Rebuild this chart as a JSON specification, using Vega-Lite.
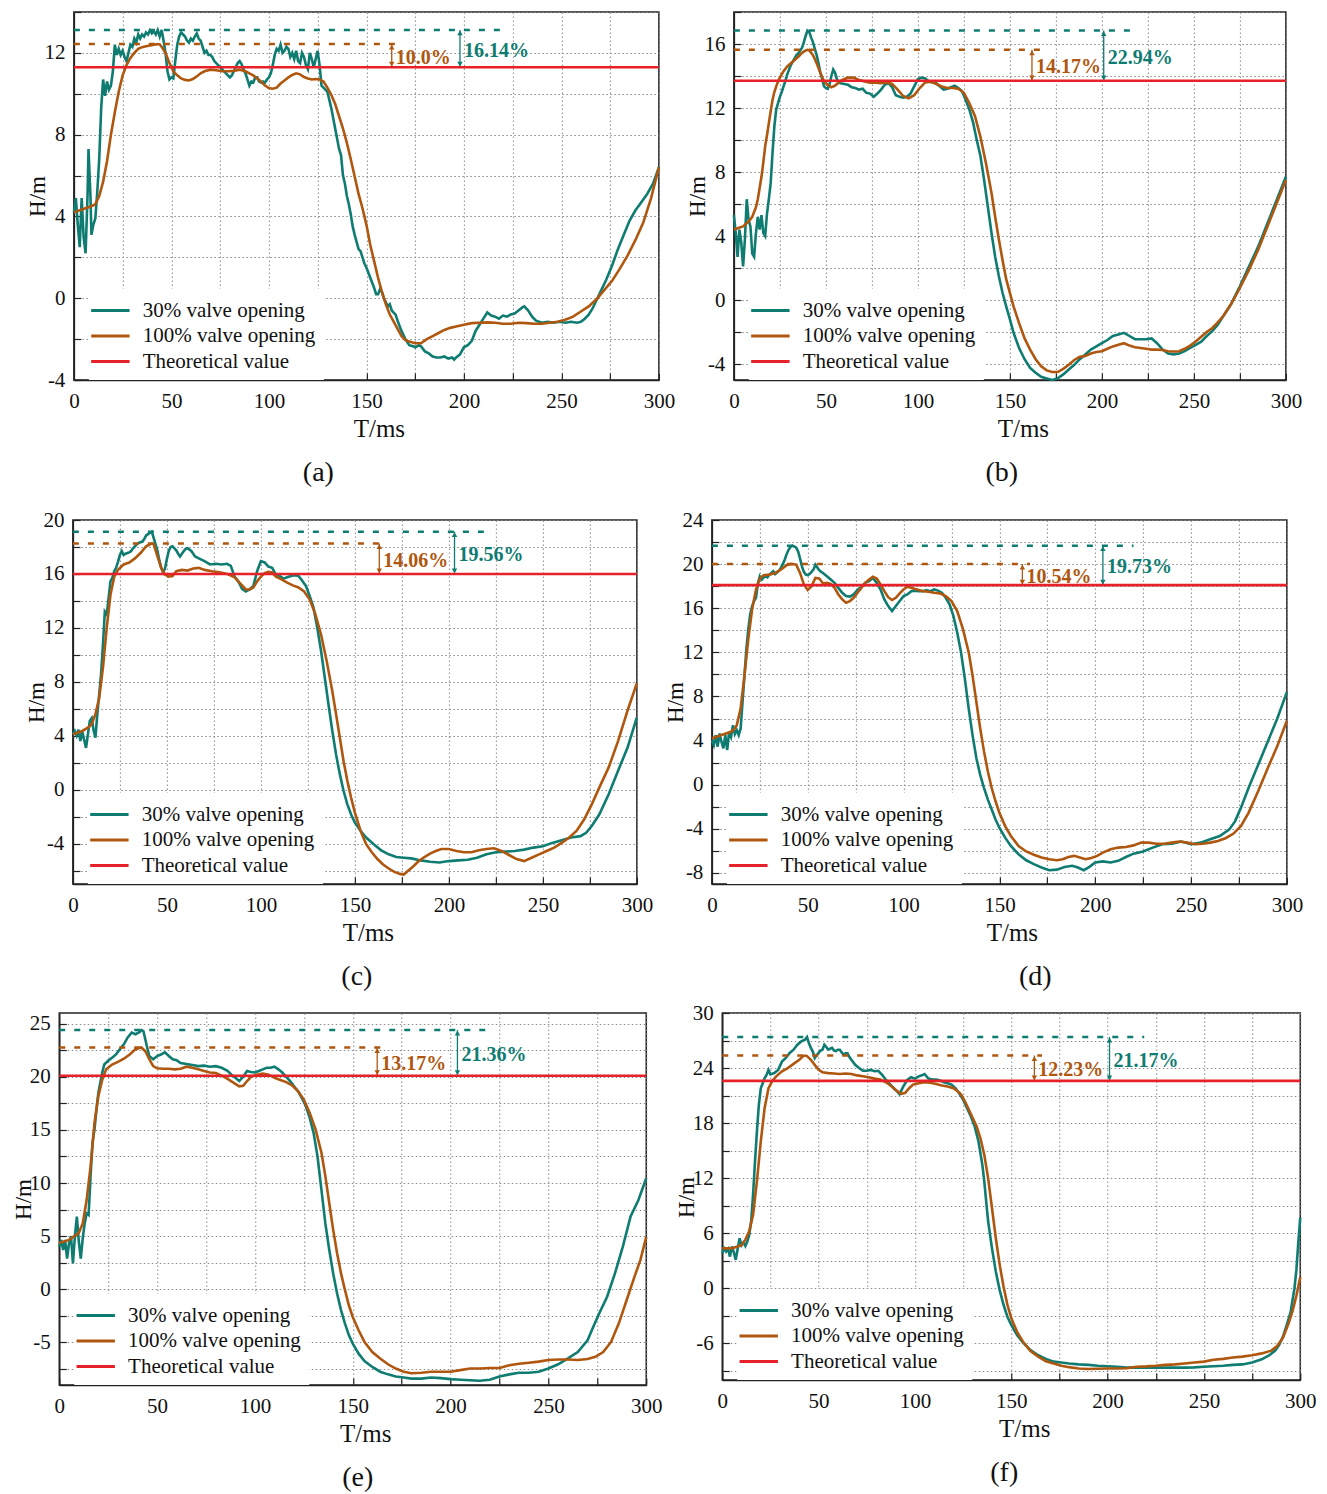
{
  "$schema": "https://vega.github.io/schema/vega-lite/v6.json",
  "padding": {"left": 11, "top": 0, "right": 5, "bottom": 2},
  "datasets": {
    "a30": [{"t":0,"H":4.2},{"t":1,"H":4.9},{"t":2,"H":3.6},{"t":3,"H":2.5},{"t":4,"H":4.9},{"t":5,"H":3.0},{"t":6,"H":2.2},{"t":7,"H":5.0},{"t":7.5,"H":7.3},{"t":8.5,"H":5.0},{"t":9,"H":3.1},{"t":10,"H":3.6},{"t":11,"H":3.9},{"t":12,"H":5.2},{"t":13,"H":6.8},{"t":14,"H":9.3},{"t":15,"H":10.7},{"t":16,"H":9.9},{"t":17,"H":10.6},{"t":18,"H":10.2},{"t":19,"H":10.4},{"t":20,"H":11.1},{"t":21,"H":12.4},{"t":22,"H":11.9},{"t":23,"H":12.2},{"t":24,"H":11.9},{"t":25,"H":12.1},{"t":26,"H":11.8},{"t":27,"H":11.6},{"t":28,"H":12.0},{"t":29,"H":12.4},{"t":30,"H":12.3},{"t":31,"H":12.7},{"t":32,"H":12.5},{"t":33,"H":12.9},{"t":34,"H":12.7},{"t":35,"H":12.9},{"t":36,"H":12.8},{"t":37,"H":13.0},{"t":38,"H":12.9},{"t":39,"H":13.1},{"t":40,"H":12.95},{"t":41,"H":13.05},{"t":42,"H":12.9},{"t":43,"H":13.12},{"t":44,"H":12.8},{"t":45,"H":13.12},{"t":46,"H":12.6},{"t":47,"H":12.0},{"t":48,"H":11.1},{"t":49,"H":10.7},{"t":50,"H":10.8},{"t":51,"H":10.75},{"t":52,"H":11.6},{"t":53,"H":12.4},{"t":54,"H":12.8},{"t":55,"H":13.0},{"t":56,"H":12.9},{"t":57,"H":12.8},{"t":58,"H":12.6},{"t":59,"H":12.5},{"t":60,"H":12.7},{"t":61,"H":12.6},{"t":62,"H":12.8},{"t":63,"H":12.95},{"t":64,"H":12.7},{"t":65,"H":12.6},{"t":66,"H":12.3},{"t":67,"H":12.0},{"t":68,"H":12.1},{"t":69,"H":11.9},{"t":70,"H":11.9},{"t":71,"H":11.8},{"t":72,"H":11.6},{"t":73,"H":11.5},{"t":74,"H":11.4},{"t":75,"H":11.3},{"t":76,"H":11.2},{"t":77,"H":11.1},{"t":78,"H":11.0},{"t":79,"H":10.9},{"t":80,"H":10.8},{"t":81,"H":10.9},{"t":82,"H":11.1},{"t":83,"H":11.3},{"t":84,"H":11.5},{"t":85,"H":11.6},{"t":86,"H":11.45},{"t":87,"H":11.2},{"t":88,"H":11.0},{"t":89,"H":10.7},{"t":90,"H":10.4},{"t":91,"H":10.6},{"t":92,"H":10.55},{"t":93,"H":10.8},{"t":94,"H":10.8},{"t":95,"H":10.6},{"t":96,"H":10.55},{"t":97,"H":10.6},{"t":98,"H":10.55},{"t":99,"H":10.7},{"t":100,"H":10.8},{"t":101,"H":11.0},{"t":102,"H":11.4},{"t":103,"H":11.9},{"t":104,"H":12.2},{"t":105,"H":12.1},{"t":106,"H":12.4},{"t":107,"H":12.0},{"t":108,"H":12.1},{"t":109,"H":12.3},{"t":110,"H":12.2},{"t":111,"H":11.8},{"t":112,"H":12.0},{"t":113,"H":11.7},{"t":114,"H":12.1},{"t":115,"H":11.6},{"t":116,"H":11.5},{"t":117,"H":12.0},{"t":118,"H":11.8},{"t":119,"H":11.4},{"t":120,"H":11.2},{"t":121,"H":12.0},{"t":122,"H":11.7},{"t":123,"H":11.3},{"t":124,"H":11.7},{"t":125,"H":12.1},{"t":126,"H":11.4},{"t":127,"H":10.4},{"t":128,"H":10.3},{"t":129,"H":10.2},{"t":130,"H":10.1},{"t":132,"H":9.3},{"t":134,"H":8.3},{"t":136,"H":7.3},{"t":137,"H":7.0},{"t":138,"H":6.0},{"t":139,"H":5.6},{"t":140,"H":5.0},{"t":141,"H":4.6},{"t":142,"H":4.1},{"t":143,"H":3.5},{"t":144,"H":3.1},{"t":146,"H":2.4},{"t":147,"H":2.3},{"t":148,"H":2.0},{"t":149,"H":1.7},{"t":150,"H":1.5},{"t":152,"H":1.0},{"t":154,"H":0.5},{"t":155,"H":0.2},{"t":156,"H":0.2},{"t":157,"H":0.45},{"t":158,"H":0.3},{"t":159,"H":0.0},{"t":160,"H":-0.2},{"t":161,"H":-0.4},{"t":162,"H":-0.3},{"t":163,"H":-0.6},{"t":164,"H":-0.7},{"t":165,"H":-0.8},{"t":166,"H":-1.1},{"t":168,"H":-1.6},{"t":170,"H":-2.0},{"t":172,"H":-2.3},{"t":174,"H":-2.35},{"t":175,"H":-2.4},{"t":177,"H":-2.3},{"t":178,"H":-2.35},{"t":180,"H":-2.6},{"t":182,"H":-2.7},{"t":184,"H":-2.85},{"t":186,"H":-2.9},{"t":188,"H":-2.9},{"t":190,"H":-2.85},{"t":192,"H":-2.95},{"t":194,"H":-2.9},{"t":195,"H":-3.0},{"t":196,"H":-2.9},{"t":198,"H":-2.75},{"t":200,"H":-2.4},{"t":202,"H":-2.3},{"t":204,"H":-2.1},{"t":206,"H":-1.6},{"t":208,"H":-1.3},{"t":210,"H":-1.0},{"t":212,"H":-0.7},{"t":214,"H":-0.85},{"t":216,"H":-0.9},{"t":218,"H":-1.0},{"t":220,"H":-0.85},{"t":222,"H":-0.9},{"t":224,"H":-0.8},{"t":226,"H":-0.75},{"t":228,"H":-0.6},{"t":230,"H":-0.45},{"t":231,"H":-0.4},{"t":233,"H":-0.6},{"t":235,"H":-0.9},{"t":237,"H":-1.1},{"t":240,"H":-1.2},{"t":243,"H":-1.15},{"t":246,"H":-1.2},{"t":249,"H":-1.15},{"t":252,"H":-1.2},{"t":255,"H":-1.15},{"t":258,"H":-1.2},{"t":260,"H":-1.15},{"t":262,"H":-1.0},{"t":264,"H":-0.8},{"t":266,"H":-0.5},{"t":268,"H":-0.1},{"t":270,"H":0.3},{"t":273,"H":0.9},{"t":276,"H":1.6},{"t":279,"H":2.4},{"t":282,"H":3.1},{"t":285,"H":3.8},{"t":288,"H":4.3},{"t":291,"H":4.7},{"t":294,"H":5.1},{"t":297,"H":5.6},{"t":300,"H":6.4}],
    "a100": [{"t":0,"H":4.2},{"t":3,"H":4.3},{"t":6,"H":4.4},{"t":9,"H":4.5},{"t":11,"H":4.6},{"t":13,"H":5.0},{"t":15,"H":5.7},{"t":17,"H":6.7},{"t":19,"H":8.0},{"t":21,"H":9.1},{"t":23,"H":10.1},{"t":25,"H":10.9},{"t":27,"H":11.4},{"t":29,"H":11.75},{"t":31,"H":12.0},{"t":33,"H":12.2},{"t":35,"H":12.28},{"t":37,"H":12.32},{"t":39,"H":12.36},{"t":41,"H":12.4},{"t":43,"H":12.43},{"t":44,"H":12.41},{"t":45,"H":12.3},{"t":46,"H":12.15},{"t":47,"H":12.0},{"t":48,"H":11.75},{"t":49,"H":11.5},{"t":50,"H":11.3},{"t":51,"H":11.1},{"t":52,"H":11.0},{"t":53,"H":10.9},{"t":55,"H":10.75},{"t":57,"H":10.68},{"t":59,"H":10.65},{"t":61,"H":10.72},{"t":63,"H":10.85},{"t":65,"H":11.0},{"t":67,"H":11.1},{"t":70,"H":11.18},{"t":73,"H":11.15},{"t":76,"H":11.1},{"t":79,"H":11.1},{"t":82,"H":11.12},{"t":85,"H":11.18},{"t":88,"H":11.1},{"t":90,"H":11.0},{"t":92,"H":10.9},{"t":94,"H":10.75},{"t":96,"H":10.6},{"t":98,"H":10.4},{"t":100,"H":10.28},{"t":102,"H":10.25},{"t":104,"H":10.3},{"t":106,"H":10.5},{"t":108,"H":10.65},{"t":110,"H":10.8},{"t":112,"H":10.92},{"t":114,"H":11.0},{"t":116,"H":10.95},{"t":118,"H":10.82},{"t":120,"H":10.75},{"t":122,"H":10.7},{"t":124,"H":10.72},{"t":126,"H":10.7},{"t":128,"H":10.6},{"t":130,"H":10.3},{"t":132,"H":9.95},{"t":134,"H":9.5},{"t":136,"H":8.9},{"t":138,"H":8.3},{"t":140,"H":7.6},{"t":142,"H":6.8},{"t":144,"H":5.95},{"t":146,"H":5.1},{"t":148,"H":4.4},{"t":150,"H":3.6},{"t":152,"H":2.6},{"t":154,"H":1.8},{"t":156,"H":1.0},{"t":158,"H":0.3},{"t":160,"H":-0.3},{"t":162,"H":-0.8},{"t":164,"H":-1.15},{"t":166,"H":-1.5},{"t":168,"H":-1.85},{"t":170,"H":-2.05},{"t":172,"H":-2.12},{"t":175,"H":-2.2},{"t":178,"H":-2.2},{"t":181,"H":-2.0},{"t":184,"H":-1.85},{"t":187,"H":-1.7},{"t":190,"H":-1.55},{"t":193,"H":-1.45},{"t":196,"H":-1.38},{"t":200,"H":-1.3},{"t":204,"H":-1.22},{"t":208,"H":-1.2},{"t":212,"H":-1.18},{"t":216,"H":-1.2},{"t":220,"H":-1.25},{"t":224,"H":-1.25},{"t":228,"H":-1.2},{"t":232,"H":-1.22},{"t":236,"H":-1.25},{"t":240,"H":-1.25},{"t":244,"H":-1.2},{"t":248,"H":-1.15},{"t":252,"H":-1.05},{"t":256,"H":-0.9},{"t":260,"H":-0.65},{"t":264,"H":-0.4},{"t":268,"H":-0.05},{"t":272,"H":0.4},{"t":276,"H":0.85},{"t":280,"H":1.45},{"t":284,"H":2.1},{"t":288,"H":2.85},{"t":292,"H":3.7},{"t":296,"H":4.9},{"t":300,"H":6.4}],
    "b30": [{"t":0,"H":5.3},{"t":1,"H":4.2},{"t":2,"H":2.7},{"t":3,"H":4.4},{"t":4,"H":3.6},{"t":5,"H":2.1},{"t":6,"H":3.8},{"t":7,"H":6.3},{"t":8,"H":5.0},{"t":9,"H":4.6},{"t":10,"H":2.9},{"t":11,"H":2.7},{"t":12,"H":4.2},{"t":13,"H":5.2},{"t":14,"H":4.4},{"t":15,"H":5.3},{"t":16,"H":4.2},{"t":17,"H":4.0},{"t":18,"H":5.4},{"t":19,"H":6.3},{"t":20,"H":7.3},{"t":21,"H":9.2},{"t":22,"H":10.85},{"t":23,"H":11.9},{"t":24,"H":12.3},{"t":25,"H":12.7},{"t":26,"H":13.0},{"t":27,"H":13.35},{"t":28,"H":13.7},{"t":29,"H":14.1},{"t":30,"H":14.4},{"t":31,"H":14.7},{"t":32,"H":14.9},{"t":33,"H":15.1},{"t":34,"H":15.3},{"t":35,"H":15.4},{"t":36,"H":15.6},{"t":37,"H":15.75},{"t":38,"H":16.1},{"t":39,"H":16.5},{"t":40,"H":16.84},{"t":41,"H":16.75},{"t":42,"H":16.4},{"t":43,"H":16.1},{"t":44,"H":15.7},{"t":45,"H":15.3},{"t":46,"H":14.8},{"t":47,"H":14.2},{"t":48,"H":13.8},{"t":49,"H":13.35},{"t":50,"H":13.25},{"t":51,"H":13.2},{"t":52,"H":13.5},{"t":53,"H":14.0},{"t":54,"H":14.4},{"t":55,"H":14.2},{"t":56,"H":13.8},{"t":57,"H":13.6},{"t":58,"H":13.55},{"t":60,"H":13.5},{"t":62,"H":13.45},{"t":64,"H":13.3},{"t":66,"H":13.25},{"t":68,"H":13.15},{"t":70,"H":13.2},{"t":72,"H":12.95},{"t":74,"H":12.9},{"t":76,"H":12.7},{"t":78,"H":12.9},{"t":80,"H":13.15},{"t":82,"H":13.45},{"t":84,"H":13.55},{"t":86,"H":13.3},{"t":88,"H":12.8},{"t":90,"H":12.7},{"t":92,"H":12.65},{"t":94,"H":12.7},{"t":96,"H":12.9},{"t":98,"H":13.35},{"t":100,"H":13.8},{"t":102,"H":13.9},{"t":104,"H":13.85},{"t":106,"H":13.65},{"t":108,"H":13.6},{"t":110,"H":13.55},{"t":112,"H":13.35},{"t":114,"H":13.15},{"t":116,"H":13.2},{"t":118,"H":13.3},{"t":120,"H":13.4},{"t":122,"H":13.25},{"t":124,"H":13.05},{"t":126,"H":12.5},{"t":128,"H":11.9},{"t":130,"H":11.1},{"t":132,"H":10.0},{"t":134,"H":9.0},{"t":136,"H":7.5},{"t":138,"H":5.85},{"t":140,"H":4.2},{"t":142,"H":2.7},{"t":144,"H":1.5},{"t":146,"H":0.45},{"t":148,"H":-0.4},{"t":150,"H":-1.2},{"t":152,"H":-2.05},{"t":155,"H":-3.0},{"t":158,"H":-3.7},{"t":161,"H":-4.25},{"t":164,"H":-4.55},{"t":167,"H":-4.8},{"t":170,"H":-4.9},{"t":173,"H":-5.0},{"t":176,"H":-4.9},{"t":179,"H":-4.65},{"t":182,"H":-4.35},{"t":185,"H":-4.05},{"t":188,"H":-3.7},{"t":191,"H":-3.4},{"t":194,"H":-3.1},{"t":197,"H":-2.9},{"t":200,"H":-2.7},{"t":203,"H":-2.5},{"t":206,"H":-2.25},{"t":209,"H":-2.15},{"t":212,"H":-2.05},{"t":215,"H":-2.25},{"t":218,"H":-2.45},{"t":221,"H":-2.45},{"t":224,"H":-2.45},{"t":227,"H":-2.4},{"t":230,"H":-2.7},{"t":233,"H":-3.1},{"t":236,"H":-3.35},{"t":239,"H":-3.4},{"t":242,"H":-3.35},{"t":245,"H":-3.2},{"t":248,"H":-3.0},{"t":251,"H":-2.8},{"t":254,"H":-2.6},{"t":257,"H":-2.25},{"t":260,"H":-1.95},{"t":263,"H":-1.55},{"t":266,"H":-1.0},{"t":270,"H":-0.3},{"t":275,"H":0.85},{"t":280,"H":2.1},{"t":285,"H":3.35},{"t":290,"H":4.8},{"t":295,"H":6.25},{"t":300,"H":7.7}],
    "b100": [{"t":0,"H":4.4},{"t":5,"H":4.6},{"t":8,"H":4.9},{"t":10,"H":5.2},{"t":12,"H":5.8},{"t":13,"H":6.3},{"t":14,"H":7.0},{"t":15,"H":7.7},{"t":16,"H":8.6},{"t":17,"H":9.6},{"t":18,"H":10.3},{"t":19,"H":11.05},{"t":20,"H":11.8},{"t":21,"H":12.5},{"t":22,"H":13.0},{"t":23,"H":13.35},{"t":24,"H":13.65},{"t":25,"H":13.9},{"t":27,"H":14.3},{"t":29,"H":14.6},{"t":31,"H":14.8},{"t":33,"H":15.0},{"t":35,"H":15.2},{"t":37,"H":15.45},{"t":39,"H":15.6},{"t":40,"H":15.64},{"t":41,"H":15.6},{"t":42,"H":15.45},{"t":43,"H":15.3},{"t":45,"H":14.8},{"t":47,"H":14.2},{"t":49,"H":13.65},{"t":51,"H":13.45},{"t":53,"H":13.3},{"t":55,"H":13.4},{"t":57,"H":13.6},{"t":59,"H":13.75},{"t":62,"H":13.9},{"t":65,"H":13.9},{"t":68,"H":13.75},{"t":71,"H":13.65},{"t":74,"H":13.58},{"t":77,"H":13.58},{"t":80,"H":13.55},{"t":83,"H":13.6},{"t":86,"H":13.5},{"t":89,"H":13.15},{"t":92,"H":12.75},{"t":95,"H":12.6},{"t":98,"H":12.8},{"t":101,"H":13.25},{"t":104,"H":13.6},{"t":107,"H":13.65},{"t":110,"H":13.5},{"t":113,"H":13.35},{"t":116,"H":13.25},{"t":119,"H":13.25},{"t":122,"H":13.2},{"t":125,"H":12.95},{"t":128,"H":12.3},{"t":131,"H":11.5},{"t":134,"H":10.2},{"t":137,"H":8.55},{"t":140,"H":6.7},{"t":142,"H":5.2},{"t":144,"H":3.8},{"t":146,"H":2.5},{"t":148,"H":1.3},{"t":150,"H":0.45},{"t":152,"H":-0.4},{"t":155,"H":-1.45},{"t":158,"H":-2.4},{"t":161,"H":-3.1},{"t":164,"H":-3.7},{"t":167,"H":-4.15},{"t":170,"H":-4.4},{"t":173,"H":-4.5},{"t":176,"H":-4.5},{"t":179,"H":-4.3},{"t":182,"H":-4.05},{"t":185,"H":-3.75},{"t":188,"H":-3.55},{"t":191,"H":-3.5},{"t":194,"H":-3.35},{"t":197,"H":-3.25},{"t":200,"H":-3.2},{"t":203,"H":-3.05},{"t":206,"H":-2.9},{"t":209,"H":-2.8},{"t":212,"H":-2.7},{"t":215,"H":-2.85},{"t":218,"H":-2.95},{"t":221,"H":-3.0},{"t":224,"H":-3.05},{"t":227,"H":-3.1},{"t":230,"H":-3.1},{"t":233,"H":-3.12},{"t":236,"H":-3.2},{"t":239,"H":-3.22},{"t":242,"H":-3.2},{"t":245,"H":-3.05},{"t":248,"H":-2.85},{"t":251,"H":-2.6},{"t":254,"H":-2.3},{"t":257,"H":-2.0},{"t":260,"H":-1.75},{"t":263,"H":-1.4},{"t":266,"H":-1.0},{"t":270,"H":-0.3},{"t":275,"H":0.75},{"t":280,"H":1.9},{"t":285,"H":3.15},{"t":290,"H":4.6},{"t":295,"H":6.05},{"t":300,"H":7.5}],
    "c30": [{"t":0,"H":4.1},{"t":1,"H":4.35},{"t":2,"H":4.0},{"t":3,"H":4.45},{"t":4,"H":3.6},{"t":5,"H":4.3},{"t":6,"H":3.7},{"t":7,"H":3.1},{"t":8,"H":4.1},{"t":9,"H":5.1},{"t":10,"H":5.3},{"t":11,"H":4.4},{"t":12,"H":3.85},{"t":13,"H":5.6},{"t":14,"H":7.05},{"t":15,"H":8.55},{"t":16,"H":10.75},{"t":17,"H":13.2},{"t":18,"H":13.0},{"t":19,"H":14.2},{"t":20,"H":15.45},{"t":21,"H":15.7},{"t":22,"H":16.2},{"t":23,"H":16.45},{"t":24,"H":16.9},{"t":25,"H":17.4},{"t":26,"H":17.7},{"t":27,"H":17.4},{"t":28,"H":17.5},{"t":29,"H":17.55},{"t":30,"H":17.6},{"t":31,"H":17.7},{"t":32,"H":17.9},{"t":33,"H":18.05},{"t":34,"H":18.2},{"t":35,"H":18.3},{"t":36,"H":18.35},{"t":37,"H":18.4},{"t":38,"H":18.6},{"t":39,"H":18.85},{"t":40,"H":18.95},{"t":41,"H":19.05},{"t":42,"H":19.13},{"t":43,"H":18.65},{"t":44,"H":18.2},{"t":45,"H":17.7},{"t":46,"H":17.0},{"t":47,"H":16.45},{"t":48,"H":16.1},{"t":49,"H":16.4},{"t":50,"H":17.1},{"t":51,"H":17.7},{"t":52,"H":18.0},{"t":53,"H":18.05},{"t":54,"H":17.9},{"t":55,"H":17.75},{"t":56,"H":17.5},{"t":57,"H":17.3},{"t":58,"H":17.5},{"t":59,"H":17.7},{"t":60,"H":17.85},{"t":61,"H":17.9},{"t":62,"H":17.8},{"t":63,"H":17.7},{"t":64,"H":17.5},{"t":65,"H":17.3},{"t":67,"H":17.15},{"t":70,"H":16.95},{"t":73,"H":16.7},{"t":76,"H":16.75},{"t":79,"H":16.7},{"t":82,"H":16.75},{"t":84,"H":16.6},{"t":86,"H":15.8},{"t":88,"H":15.45},{"t":90,"H":14.9},{"t":92,"H":14.7},{"t":94,"H":14.85},{"t":96,"H":15.1},{"t":98,"H":16.2},{"t":100,"H":16.95},{"t":102,"H":16.85},{"t":104,"H":16.55},{"t":106,"H":16.45},{"t":108,"H":15.95},{"t":110,"H":15.85},{"t":112,"H":15.65},{"t":114,"H":15.75},{"t":116,"H":15.85},{"t":118,"H":15.9},{"t":120,"H":15.85},{"t":122,"H":15.5},{"t":124,"H":15.1},{"t":126,"H":14.35},{"t":128,"H":13.5},{"t":130,"H":12.0},{"t":132,"H":10.3},{"t":134,"H":8.3},{"t":136,"H":6.3},{"t":138,"H":4.35},{"t":140,"H":2.6},{"t":142,"H":1.15},{"t":144,"H":-0.1},{"t":146,"H":-1.1},{"t":148,"H":-1.85},{"t":150,"H":-2.45},{"t":153,"H":-3.05},{"t":156,"H":-3.55},{"t":160,"H":-4.05},{"t":164,"H":-4.5},{"t":168,"H":-4.8},{"t":172,"H":-5.0},{"t":176,"H":-5.05},{"t":180,"H":-5.1},{"t":185,"H":-5.25},{"t":190,"H":-5.35},{"t":195,"H":-5.4},{"t":200,"H":-5.3},{"t":205,"H":-5.25},{"t":210,"H":-5.2},{"t":215,"H":-5.05},{"t":220,"H":-4.8},{"t":225,"H":-4.65},{"t":230,"H":-4.6},{"t":235,"H":-4.55},{"t":240,"H":-4.45},{"t":245,"H":-4.3},{"t":250,"H":-4.2},{"t":255,"H":-3.95},{"t":260,"H":-3.75},{"t":265,"H":-3.55},{"t":270,"H":-3.45},{"t":273,"H":-3.2},{"t":276,"H":-2.7},{"t":280,"H":-1.85},{"t":285,"H":-0.35},{"t":290,"H":1.4},{"t":295,"H":3.1},{"t":300,"H":5.35}],
    "c100": [{"t":0,"H":4.1},{"t":5,"H":4.35},{"t":8,"H":4.6},{"t":10,"H":4.85},{"t":12,"H":5.6},{"t":14,"H":6.8},{"t":16,"H":9.05},{"t":18,"H":12.0},{"t":20,"H":14.45},{"t":22,"H":15.8},{"t":24,"H":16.3},{"t":27,"H":16.7},{"t":30,"H":16.85},{"t":33,"H":17.15},{"t":36,"H":17.55},{"t":39,"H":18.05},{"t":41,"H":18.2},{"t":42,"H":18.25},{"t":43,"H":18.2},{"t":45,"H":17.3},{"t":47,"H":16.45},{"t":49,"H":15.95},{"t":51,"H":15.8},{"t":53,"H":15.85},{"t":55,"H":16.2},{"t":58,"H":16.3},{"t":61,"H":16.25},{"t":64,"H":16.4},{"t":67,"H":16.45},{"t":70,"H":16.3},{"t":74,"H":16.2},{"t":78,"H":16.12},{"t":82,"H":16.0},{"t":86,"H":15.75},{"t":89,"H":15.3},{"t":92,"H":14.85},{"t":94,"H":14.85},{"t":96,"H":15.0},{"t":98,"H":15.45},{"t":100,"H":15.8},{"t":102,"H":16.05},{"t":104,"H":16.15},{"t":106,"H":16.1},{"t":108,"H":15.8},{"t":111,"H":15.6},{"t":114,"H":15.35},{"t":117,"H":15.15},{"t":120,"H":15.0},{"t":123,"H":14.7},{"t":126,"H":14.1},{"t":129,"H":13.0},{"t":132,"H":11.5},{"t":135,"H":9.55},{"t":138,"H":7.3},{"t":140,"H":5.6},{"t":142,"H":3.85},{"t":144,"H":2.1},{"t":146,"H":0.65},{"t":148,"H":-0.6},{"t":150,"H":-1.7},{"t":153,"H":-3.05},{"t":156,"H":-4.05},{"t":159,"H":-4.65},{"t":162,"H":-5.15},{"t":165,"H":-5.55},{"t":168,"H":-5.85},{"t":171,"H":-6.1},{"t":174,"H":-6.25},{"t":176,"H":-6.3},{"t":178,"H":-6.05},{"t":181,"H":-5.7},{"t":184,"H":-5.3},{"t":187,"H":-5.0},{"t":190,"H":-4.75},{"t":193,"H":-4.55},{"t":196,"H":-4.4},{"t":200,"H":-4.4},{"t":204,"H":-4.55},{"t":208,"H":-4.65},{"t":212,"H":-4.65},{"t":216,"H":-4.5},{"t":220,"H":-4.4},{"t":224,"H":-4.35},{"t":228,"H":-4.55},{"t":232,"H":-4.85},{"t":236,"H":-5.15},{"t":240,"H":-5.3},{"t":244,"H":-5.05},{"t":248,"H":-4.8},{"t":252,"H":-4.55},{"t":256,"H":-4.3},{"t":260,"H":-3.95},{"t":264,"H":-3.55},{"t":268,"H":-3.05},{"t":272,"H":-2.2},{"t":276,"H":-1.1},{"t":280,"H":0.15},{"t":285,"H":1.65},{"t":290,"H":3.6},{"t":295,"H":5.85},{"t":300,"H":7.9}],
    "d30": [{"t":0,"H":4.05},{"t":1,"H":3.6},{"t":2,"H":4.5},{"t":3,"H":3.45},{"t":4,"H":4.65},{"t":5,"H":3.9},{"t":6,"H":3.3},{"t":7,"H":4.5},{"t":8,"H":3.15},{"t":9,"H":4.8},{"t":10,"H":4.35},{"t":11,"H":5.4},{"t":12,"H":4.6},{"t":13,"H":4.95},{"t":14,"H":4.5},{"t":15,"H":5.1},{"t":16,"H":7.5},{"t":17,"H":9.9},{"t":18,"H":12.3},{"t":19,"H":14.1},{"t":20,"H":15.45},{"t":21,"H":16.2},{"t":22,"H":16.65},{"t":23,"H":16.95},{"t":24,"H":18.25},{"t":25,"H":18.9},{"t":26,"H":18.6},{"t":27,"H":18.8},{"t":28,"H":18.9},{"t":29,"H":18.8},{"t":30,"H":19.05},{"t":31,"H":19.2},{"t":32,"H":19.35},{"t":33,"H":19.1},{"t":34,"H":19.25},{"t":35,"H":19.4},{"t":36,"H":19.65},{"t":37,"H":20.0},{"t":38,"H":20.4},{"t":39,"H":20.9},{"t":40,"H":21.3},{"t":41,"H":21.55},{"t":42,"H":21.67},{"t":43,"H":21.6},{"t":44,"H":21.5},{"t":45,"H":21.15},{"t":46,"H":20.5},{"t":47,"H":19.8},{"t":48,"H":19.3},{"t":49,"H":19.05},{"t":50,"H":19.0},{"t":51,"H":19.1},{"t":52,"H":19.3},{"t":53,"H":19.5},{"t":54,"H":19.95},{"t":55,"H":19.7},{"t":56,"H":19.45},{"t":57,"H":19.3},{"t":58,"H":19.2},{"t":60,"H":18.9},{"t":62,"H":18.6},{"t":64,"H":18.3},{"t":66,"H":17.85},{"t":68,"H":17.4},{"t":70,"H":17.1},{"t":72,"H":17.05},{"t":74,"H":17.25},{"t":76,"H":17.65},{"t":78,"H":17.95},{"t":80,"H":18.3},{"t":82,"H":18.45},{"t":84,"H":18.75},{"t":86,"H":18.3},{"t":88,"H":17.7},{"t":90,"H":16.8},{"t":92,"H":16.2},{"t":94,"H":15.75},{"t":96,"H":16.2},{"t":98,"H":16.65},{"t":100,"H":17.1},{"t":102,"H":17.25},{"t":104,"H":17.55},{"t":106,"H":17.6},{"t":108,"H":17.55},{"t":110,"H":17.55},{"t":112,"H":17.65},{"t":114,"H":17.55},{"t":116,"H":17.7},{"t":118,"H":17.6},{"t":120,"H":17.4},{"t":122,"H":16.95},{"t":124,"H":16.35},{"t":126,"H":15.3},{"t":128,"H":13.8},{"t":130,"H":12.0},{"t":132,"H":9.6},{"t":134,"H":6.9},{"t":136,"H":4.5},{"t":138,"H":2.4},{"t":140,"H":0.9},{"t":142,"H":-0.3},{"t":144,"H":-1.35},{"t":146,"H":-2.25},{"t":148,"H":-3.15},{"t":150,"H":-3.9},{"t":153,"H":-4.8},{"t":156,"H":-5.55},{"t":160,"H":-6.3},{"t":164,"H":-6.85},{"t":168,"H":-7.2},{"t":172,"H":-7.5},{"t":176,"H":-7.75},{"t":180,"H":-7.7},{"t":184,"H":-7.45},{"t":188,"H":-7.35},{"t":191,"H":-7.5},{"t":194,"H":-7.75},{"t":197,"H":-7.45},{"t":200,"H":-7.05},{"t":204,"H":-6.95},{"t":208,"H":-7.05},{"t":212,"H":-6.9},{"t":216,"H":-6.55},{"t":220,"H":-6.25},{"t":225,"H":-6.05},{"t":230,"H":-5.7},{"t":235,"H":-5.4},{"t":240,"H":-5.35},{"t":245,"H":-5.15},{"t":250,"H":-5.4},{"t":255,"H":-5.25},{"t":260,"H":-4.95},{"t":265,"H":-4.65},{"t":270,"H":-4.05},{"t":273,"H":-3.3},{"t":276,"H":-2.1},{"t":280,"H":-0.3},{"t":285,"H":1.8},{"t":290,"H":3.9},{"t":295,"H":6.0},{"t":300,"H":8.4}],
    "d100": [{"t":0,"H":4.2},{"t":5,"H":4.5},{"t":10,"H":4.8},{"t":12,"H":5.1},{"t":13,"H":5.4},{"t":15,"H":6.9},{"t":17,"H":9.9},{"t":19,"H":13.2},{"t":21,"H":15.9},{"t":23,"H":17.7},{"t":25,"H":18.7},{"t":27,"H":19.0},{"t":30,"H":19.05},{"t":33,"H":19.2},{"t":36,"H":19.5},{"t":39,"H":19.9},{"t":41,"H":20.0},{"t":42,"H":20.01},{"t":44,"H":19.95},{"t":46,"H":19.2},{"t":48,"H":18.15},{"t":50,"H":17.65},{"t":52,"H":18.0},{"t":54,"H":18.75},{"t":56,"H":18.7},{"t":58,"H":18.25},{"t":60,"H":18.3},{"t":62,"H":18.2},{"t":64,"H":17.85},{"t":66,"H":17.25},{"t":68,"H":16.8},{"t":70,"H":16.5},{"t":72,"H":16.65},{"t":74,"H":16.95},{"t":76,"H":17.4},{"t":78,"H":17.85},{"t":80,"H":18.3},{"t":82,"H":18.6},{"t":84,"H":18.85},{"t":86,"H":18.7},{"t":88,"H":18.15},{"t":90,"H":17.55},{"t":92,"H":17.0},{"t":94,"H":16.75},{"t":96,"H":16.95},{"t":98,"H":17.35},{"t":100,"H":17.7},{"t":102,"H":17.95},{"t":104,"H":17.85},{"t":106,"H":17.75},{"t":108,"H":17.65},{"t":110,"H":17.55},{"t":113,"H":17.5},{"t":116,"H":17.4},{"t":119,"H":17.35},{"t":122,"H":17.1},{"t":125,"H":16.65},{"t":128,"H":15.75},{"t":131,"H":14.1},{"t":134,"H":12.0},{"t":136,"H":9.9},{"t":138,"H":7.5},{"t":140,"H":5.1},{"t":142,"H":3.0},{"t":144,"H":1.2},{"t":146,"H":-0.3},{"t":148,"H":-1.5},{"t":150,"H":-2.55},{"t":153,"H":-3.75},{"t":156,"H":-4.65},{"t":160,"H":-5.55},{"t":164,"H":-6.05},{"t":168,"H":-6.35},{"t":172,"H":-6.6},{"t":176,"H":-6.75},{"t":180,"H":-6.85},{"t":183,"H":-6.75},{"t":186,"H":-6.55},{"t":189,"H":-6.45},{"t":192,"H":-6.6},{"t":195,"H":-6.75},{"t":198,"H":-6.65},{"t":201,"H":-6.45},{"t":204,"H":-6.15},{"t":208,"H":-5.85},{"t":212,"H":-5.7},{"t":216,"H":-5.65},{"t":220,"H":-5.5},{"t":224,"H":-5.25},{"t":228,"H":-5.25},{"t":232,"H":-5.35},{"t":236,"H":-5.35},{"t":240,"H":-5.25},{"t":244,"H":-5.15},{"t":248,"H":-5.25},{"t":252,"H":-5.4},{"t":256,"H":-5.35},{"t":260,"H":-5.25},{"t":264,"H":-5.1},{"t":268,"H":-4.85},{"t":272,"H":-4.45},{"t":276,"H":-3.75},{"t":280,"H":-2.55},{"t":285,"H":-0.6},{"t":290,"H":1.5},{"t":295,"H":3.5},{"t":300,"H":5.8}],
    "e30": [{"t":0,"H":4.0},{"t":1,"H":4.65},{"t":2,"H":3.7},{"t":3,"H":4.65},{"t":4,"H":2.9},{"t":5,"H":4.35},{"t":6,"H":5.0},{"t":7,"H":2.45},{"t":8,"H":5.0},{"t":9,"H":6.85},{"t":10,"H":4.5},{"t":11,"H":2.9},{"t":12,"H":4.8},{"t":13,"H":6.2},{"t":14,"H":7.15},{"t":15,"H":7.0},{"t":16,"H":10.6},{"t":17,"H":13.8},{"t":18,"H":15.0},{"t":19,"H":16.9},{"t":20,"H":18.5},{"t":21,"H":19.45},{"t":22,"H":20.4},{"t":23,"H":21.15},{"t":25,"H":21.5},{"t":27,"H":21.8},{"t":29,"H":22.1},{"t":31,"H":22.6},{"t":33,"H":23.05},{"t":35,"H":23.7},{"t":37,"H":24.15},{"t":39,"H":24.0},{"t":40,"H":24.1},{"t":41,"H":24.2},{"t":42,"H":24.39},{"t":43,"H":24.3},{"t":44,"H":23.5},{"t":45,"H":22.7},{"t":46,"H":21.95},{"t":48,"H":21.65},{"t":50,"H":21.95},{"t":52,"H":22.1},{"t":54,"H":22.3},{"t":56,"H":21.95},{"t":58,"H":21.65},{"t":60,"H":21.55},{"t":62,"H":21.3},{"t":65,"H":21.2},{"t":68,"H":21.1},{"t":71,"H":21.0},{"t":74,"H":21.05},{"t":77,"H":20.95},{"t":80,"H":21.0},{"t":83,"H":20.85},{"t":86,"H":20.55},{"t":88,"H":20.2},{"t":90,"H":19.9},{"t":92,"H":19.6},{"t":94,"H":20.0},{"t":96,"H":20.55},{"t":98,"H":20.45},{"t":100,"H":20.4},{"t":102,"H":20.55},{"t":104,"H":20.7},{"t":106,"H":20.85},{"t":108,"H":20.85},{"t":110,"H":20.95},{"t":112,"H":20.7},{"t":114,"H":20.4},{"t":116,"H":20.0},{"t":118,"H":19.6},{"t":120,"H":19.1},{"t":122,"H":18.65},{"t":124,"H":18.0},{"t":126,"H":17.25},{"t":128,"H":16.15},{"t":130,"H":14.7},{"t":132,"H":12.5},{"t":134,"H":9.35},{"t":136,"H":6.2},{"t":138,"H":3.7},{"t":140,"H":1.5},{"t":142,"H":-0.4},{"t":144,"H":-1.95},{"t":146,"H":-3.2},{"t":148,"H":-4.3},{"t":150,"H":-5.1},{"t":153,"H":-6.05},{"t":156,"H":-6.75},{"t":160,"H":-7.3},{"t":164,"H":-7.75},{"t":168,"H":-8.0},{"t":172,"H":-8.2},{"t":176,"H":-8.3},{"t":180,"H":-8.4},{"t":185,"H":-8.4},{"t":190,"H":-8.3},{"t":195,"H":-8.35},{"t":200,"H":-8.45},{"t":205,"H":-8.5},{"t":210,"H":-8.55},{"t":215,"H":-8.6},{"t":220,"H":-8.5},{"t":225,"H":-8.2},{"t":230,"H":-8.0},{"t":235,"H":-7.85},{"t":240,"H":-7.85},{"t":245,"H":-7.75},{"t":250,"H":-7.45},{"t":255,"H":-7.05},{"t":260,"H":-6.5},{"t":265,"H":-5.9},{"t":270,"H":-4.8},{"t":273,"H":-3.5},{"t":276,"H":-2.25},{"t":280,"H":-0.7},{"t":284,"H":1.5},{"t":288,"H":4.0},{"t":292,"H":6.85},{"t":296,"H":8.4},{"t":300,"H":10.45}],
    "e100": [{"t":0,"H":4.35},{"t":5,"H":4.65},{"t":10,"H":5.3},{"t":12,"H":6.2},{"t":14,"H":8.4},{"t":16,"H":11.55},{"t":18,"H":15.65},{"t":20,"H":18.2},{"t":22,"H":19.75},{"t":24,"H":20.7},{"t":27,"H":21.15},{"t":30,"H":21.4},{"t":33,"H":21.7},{"t":36,"H":22.1},{"t":39,"H":22.6},{"t":41,"H":22.7},{"t":42,"H":22.75},{"t":44,"H":22.4},{"t":46,"H":21.65},{"t":48,"H":21.0},{"t":50,"H":20.8},{"t":53,"H":20.75},{"t":56,"H":20.75},{"t":59,"H":20.7},{"t":62,"H":20.75},{"t":65,"H":20.95},{"t":68,"H":20.85},{"t":71,"H":20.7},{"t":74,"H":20.55},{"t":77,"H":20.4},{"t":80,"H":20.35},{"t":83,"H":20.1},{"t":86,"H":19.8},{"t":89,"H":19.45},{"t":92,"H":19.1},{"t":94,"H":19.15},{"t":96,"H":19.6},{"t":98,"H":20.0},{"t":101,"H":20.2},{"t":104,"H":20.3},{"t":107,"H":20.2},{"t":110,"H":19.9},{"t":113,"H":19.7},{"t":116,"H":19.5},{"t":119,"H":19.2},{"t":122,"H":18.65},{"t":125,"H":17.85},{"t":128,"H":16.6},{"t":131,"H":15.05},{"t":134,"H":12.85},{"t":136,"H":10.65},{"t":138,"H":8.1},{"t":140,"H":5.6},{"t":142,"H":3.4},{"t":144,"H":1.5},{"t":146,"H":-0.05},{"t":148,"H":-1.5},{"t":150,"H":-2.6},{"t":153,"H":-3.85},{"t":156,"H":-4.95},{"t":160,"H":-5.9},{"t":164,"H":-6.5},{"t":168,"H":-7.05},{"t":172,"H":-7.45},{"t":176,"H":-7.75},{"t":180,"H":-7.9},{"t":185,"H":-7.85},{"t":190,"H":-7.75},{"t":195,"H":-7.75},{"t":200,"H":-7.75},{"t":205,"H":-7.6},{"t":210,"H":-7.45},{"t":215,"H":-7.45},{"t":220,"H":-7.4},{"t":225,"H":-7.4},{"t":230,"H":-7.15},{"t":235,"H":-7.0},{"t":240,"H":-6.9},{"t":245,"H":-6.8},{"t":250,"H":-6.65},{"t":255,"H":-6.6},{"t":260,"H":-6.6},{"t":265,"H":-6.65},{"t":270,"H":-6.55},{"t":274,"H":-6.35},{"t":278,"H":-5.9},{"t":282,"H":-4.95},{"t":286,"H":-3.2},{"t":290,"H":-1.0},{"t":294,"H":1.2},{"t":297,"H":2.75},{"t":300,"H":4.95}],
    "f30": [{"t":0,"H":3.8},{"t":1,"H":4.35},{"t":2,"H":4.0},{"t":3,"H":4.3},{"t":4,"H":3.45},{"t":5,"H":4.55},{"t":6,"H":3.9},{"t":7,"H":3.1},{"t":8,"H":4.3},{"t":9,"H":5.45},{"t":10,"H":4.7},{"t":11,"H":5.0},{"t":12,"H":4.6},{"t":13,"H":5.1},{"t":14,"H":5.8},{"t":15,"H":7.3},{"t":16,"H":10.2},{"t":17,"H":13.8},{"t":18,"H":17.1},{"t":19,"H":20.0},{"t":20,"H":21.8},{"t":21,"H":22.35},{"t":22,"H":22.9},{"t":23,"H":23.25},{"t":24,"H":23.8},{"t":25,"H":23.3},{"t":27,"H":23.45},{"t":29,"H":23.8},{"t":31,"H":24.7},{"t":33,"H":25.1},{"t":35,"H":25.65},{"t":37,"H":26.0},{"t":39,"H":26.55},{"t":41,"H":26.9},{"t":43,"H":27.1},{"t":44,"H":27.38},{"t":45,"H":26.7},{"t":46,"H":26.2},{"t":47,"H":25.8},{"t":48,"H":25.1},{"t":49,"H":25.4},{"t":50,"H":25.65},{"t":51,"H":25.9},{"t":52,"H":26.0},{"t":53,"H":26.55},{"t":54,"H":26.3},{"t":55,"H":26.0},{"t":56,"H":26.1},{"t":57,"H":26.2},{"t":58,"H":25.9},{"t":59,"H":25.85},{"t":60,"H":26.0},{"t":61,"H":26.0},{"t":62,"H":25.7},{"t":63,"H":25.45},{"t":64,"H":25.6},{"t":65,"H":25.6},{"t":66,"H":25.2},{"t":67,"H":24.9},{"t":69,"H":24.35},{"t":71,"H":24.0},{"t":73,"H":23.7},{"t":75,"H":23.7},{"t":77,"H":23.8},{"t":79,"H":23.65},{"t":81,"H":23.7},{"t":83,"H":23.25},{"t":85,"H":22.7},{"t":87,"H":22.25},{"t":89,"H":21.8},{"t":91,"H":21.4},{"t":92,"H":21.15},{"t":94,"H":22.0},{"t":96,"H":22.7},{"t":98,"H":23.0},{"t":100,"H":22.85},{"t":102,"H":23.1},{"t":104,"H":23.25},{"t":105,"H":23.35},{"t":107,"H":22.85},{"t":109,"H":22.75},{"t":111,"H":22.75},{"t":113,"H":22.65},{"t":115,"H":22.45},{"t":117,"H":22.35},{"t":119,"H":22.2},{"t":121,"H":21.8},{"t":123,"H":21.25},{"t":125,"H":20.55},{"t":127,"H":19.65},{"t":129,"H":18.75},{"t":131,"H":17.65},{"t":133,"H":16.0},{"t":135,"H":13.45},{"t":136,"H":11.65},{"t":137,"H":9.45},{"t":138,"H":7.3},{"t":140,"H":4.35},{"t":142,"H":1.8},{"t":144,"H":-0.2},{"t":146,"H":-1.8},{"t":148,"H":-3.1},{"t":150,"H":-4.0},{"t":153,"H":-5.1},{"t":156,"H":-5.9},{"t":160,"H":-6.75},{"t":164,"H":-7.3},{"t":168,"H":-7.7},{"t":172,"H":-8.0},{"t":176,"H":-8.1},{"t":180,"H":-8.2},{"t":185,"H":-8.3},{"t":190,"H":-8.35},{"t":195,"H":-8.45},{"t":200,"H":-8.5},{"t":205,"H":-8.55},{"t":210,"H":-8.65},{"t":215,"H":-8.62},{"t":220,"H":-8.65},{"t":225,"H":-8.65},{"t":230,"H":-8.65},{"t":235,"H":-8.65},{"t":240,"H":-8.65},{"t":245,"H":-8.62},{"t":250,"H":-8.55},{"t":255,"H":-8.5},{"t":260,"H":-8.45},{"t":265,"H":-8.35},{"t":270,"H":-8.3},{"t":275,"H":-8.1},{"t":280,"H":-7.75},{"t":284,"H":-7.3},{"t":287,"H":-6.8},{"t":289,"H":-6.2},{"t":291,"H":-5.3},{"t":293,"H":-4.0},{"t":295,"H":-2.6},{"t":297,"H":0.0},{"t":298,"H":2.0},{"t":299,"H":5.0},{"t":300,"H":7.7}],
    "f100": [{"t":0,"H":4.35},{"t":5,"H":4.35},{"t":10,"H":4.7},{"t":12,"H":5.3},{"t":14,"H":6.2},{"t":16,"H":8.0},{"t":18,"H":11.65},{"t":20,"H":16.0},{"t":22,"H":19.65},{"t":24,"H":21.8},{"t":26,"H":22.6},{"t":28,"H":23.1},{"t":31,"H":23.65},{"t":34,"H":24.0},{"t":37,"H":24.45},{"t":40,"H":24.9},{"t":42,"H":25.3},{"t":43,"H":25.36},{"t":44,"H":25.3},{"t":46,"H":24.9},{"t":48,"H":24.35},{"t":50,"H":23.8},{"t":52,"H":23.55},{"t":55,"H":23.45},{"t":58,"H":23.4},{"t":61,"H":23.35},{"t":64,"H":23.4},{"t":67,"H":23.35},{"t":70,"H":23.2},{"t":73,"H":23.1},{"t":76,"H":23.0},{"t":79,"H":22.85},{"t":82,"H":22.75},{"t":85,"H":22.45},{"t":88,"H":22.0},{"t":91,"H":21.45},{"t":93,"H":21.2},{"t":95,"H":21.3},{"t":97,"H":21.8},{"t":99,"H":22.2},{"t":102,"H":22.35},{"t":105,"H":22.45},{"t":108,"H":22.4},{"t":111,"H":22.25},{"t":114,"H":22.1},{"t":117,"H":22.0},{"t":120,"H":21.8},{"t":122,"H":21.5},{"t":124,"H":21.1},{"t":126,"H":20.35},{"t":128,"H":19.45},{"t":130,"H":18.55},{"t":132,"H":17.65},{"t":134,"H":16.35},{"t":136,"H":14.55},{"t":138,"H":12.0},{"t":140,"H":8.75},{"t":142,"H":5.45},{"t":144,"H":2.55},{"t":146,"H":0.2},{"t":148,"H":-1.8},{"t":150,"H":-3.25},{"t":153,"H":-4.75},{"t":156,"H":-5.8},{"t":160,"H":-6.85},{"t":164,"H":-7.45},{"t":168,"H":-7.95},{"t":172,"H":-8.2},{"t":176,"H":-8.45},{"t":180,"H":-8.6},{"t":185,"H":-8.75},{"t":190,"H":-8.8},{"t":195,"H":-8.78},{"t":200,"H":-8.75},{"t":205,"H":-8.75},{"t":210,"H":-8.72},{"t":215,"H":-8.55},{"t":220,"H":-8.52},{"t":225,"H":-8.45},{"t":230,"H":-8.35},{"t":235,"H":-8.3},{"t":240,"H":-8.2},{"t":245,"H":-8.1},{"t":250,"H":-8.0},{"t":255,"H":-7.8},{"t":260,"H":-7.7},{"t":265,"H":-7.55},{"t":270,"H":-7.45},{"t":275,"H":-7.3},{"t":280,"H":-7.1},{"t":285,"H":-6.8},{"t":288,"H":-6.3},{"t":291,"H":-5.4},{"t":294,"H":-3.8},{"t":296,"H":-2.5},{"t":298,"H":-0.8},{"t":300,"H":1.2}]
  },
  "vconcat": [
    {
      "vconcat": [
        {
          "hconcat": [
            {
              "width": 585, "height": 368,
              "title": {"text": "(a)", "orient": "bottom", "dx": -48},
              "layer": [
                {"data": {"name": "a30"}, "layer": [
                  {"mark": {"type": "line", "strokeWidth": 2.6},
                   "encoding": {
                     "x": {"field": "t", "type": "quantitative", "scale": {"domain": [0, 300], "nice": false}, "axis": {"values": [0,25,50,75,100,125,150,175,200,225,250,275,300], "tickCount": 100, "labelExpr": "datum.value % 50 == 0 ? datum.label : ''", "title": "T/ms", "titleX": 305, "titleY": 56}},
                     "y": {"field": "H", "type": "quantitative", "scale": {"domain": [-4, 14], "nice": false, "zero": false}, "axis": {"values": [-4,-2,0,2,4,6,8,10,12,14], "tickCount": 100, "labelExpr": "datum.value % 4 == 0 ? '' + datum.value : ''", "title": "H/m", "titleX": -29, "titleY": 184}},
                     "color": {"datum": "30% valve opening", "type": "nominal", "scale": {"domain": ["30% valve opening", "100% valve opening", "Theoretical value"], "range": ["#0f7c72", "#b0570f", "#e62129"]}, "legend": {"title": null, "legendX": 15, "legendY": 277}}}},
                  {"transform": [{"aggregate": [{"op": "max", "field": "H", "as": "peak"}]}, {"calculate": "(datum.peak + 11.3) / 2", "as": "mid"}],
                   "layer": [
                     {"mark": {"type": "rule", "color": "#0f7c72", "strokeWidth": 2.5, "strokeDash": [6, 9]}, "encoding": {"x": {"datum": 0}, "x2": {"datum": 220}, "y": {"field": "peak", "type": "quantitative"}}},
                     {"mark": {"type": "rule", "color": "#0f7c72", "strokeWidth": 1.3}, "encoding": {"x": {"datum": 198}, "y": {"field": "peak", "type": "quantitative"}, "y2": {"datum": 11.3}}},
                     {"mark": {"type": "point", "shape": "triangle-up", "filled": true, "opacity": 1, "color": "#0f7c72", "size": 30, "yOffset": 3}, "encoding": {"x": {"datum": 198}, "y": {"field": "peak", "type": "quantitative"}}},
                     {"mark": {"type": "point", "shape": "triangle-down", "filled": true, "opacity": 1, "color": "#0f7c72", "size": 30, "yOffset": -3}, "encoding": {"x": {"datum": 198}, "y": {"datum": 11.3}}},
                     {"mark": {"type": "text", "align": "left", "baseline": "middle", "dx": 4, "dy": 2, "fontSize": 20, "fontWeight": "bold", "color": "#0f7c72"}, "encoding": {"x": {"datum": 198}, "y": {"field": "mid", "type": "quantitative"}, "text": {"value": "16.14%"}}}
                   ]}
                ]},
                {"data": {"name": "a100"}, "layer": [
                  {"mark": {"type": "line", "strokeWidth": 2.6}, "encoding": {"x": {"field": "t", "type": "quantitative"}, "y": {"field": "H", "type": "quantitative"}, "color": {"datum": "100% valve opening", "type": "nominal"}}},
                  {"transform": [{"aggregate": [{"op": "max", "field": "H", "as": "peak"}]}, {"calculate": "(datum.peak + 11.3) / 2", "as": "mid"}],
                   "layer": [
                     {"mark": {"type": "rule", "color": "#b0570f", "strokeWidth": 2.5, "strokeDash": [6, 9]}, "encoding": {"x": {"datum": 0}, "x2": {"datum": 167}, "y": {"field": "peak", "type": "quantitative"}}},
                     {"mark": {"type": "rule", "color": "#b0570f", "strokeWidth": 1.3}, "encoding": {"x": {"datum": 163}, "y": {"field": "peak", "type": "quantitative"}, "y2": {"datum": 11.3}}},
                     {"mark": {"type": "point", "shape": "triangle-up", "filled": true, "opacity": 1, "color": "#b0570f", "size": 30, "yOffset": 3}, "encoding": {"x": {"datum": 163}, "y": {"field": "peak", "type": "quantitative"}}},
                     {"mark": {"type": "point", "shape": "triangle-down", "filled": true, "opacity": 1, "color": "#b0570f", "size": 30, "yOffset": -3}, "encoding": {"x": {"datum": 163}, "y": {"datum": 11.3}}},
                     {"mark": {"type": "text", "align": "left", "baseline": "middle", "dx": 4, "dy": 2, "fontSize": 20, "fontWeight": "bold", "color": "#b0570f"}, "encoding": {"x": {"datum": 163}, "y": {"field": "mid", "type": "quantitative"}, "text": {"value": "10.0%"}}}
                   ]}
                ]},
                {"data": {"values": [{"theory": 11.3}]}, "mark": {"type": "rule", "strokeWidth": 2.6}, "encoding": {"y": {"field": "theory", "type": "quantitative"}, "color": {"datum": "Theoretical value", "type": "nominal"}}}
              ]
            },
            {
              "width": 552, "height": 368,
              "title": {"text": "(b)", "orient": "bottom", "dx": -8},
              "layer": [
                {"data": {"name": "b30"}, "layer": [
                  {"mark": {"type": "line", "strokeWidth": 2.6},
                   "encoding": {
                     "x": {"field": "t", "type": "quantitative", "scale": {"domain": [0, 300], "nice": false}, "axis": {"values": [0,25,50,75,100,125,150,175,200,225,250,275,300], "tickCount": 100, "labelExpr": "datum.value % 50 == 0 ? datum.label : ''", "title": "T/ms", "titleX": 289, "titleY": 56}},
                     "y": {"field": "H", "type": "quantitative", "scale": {"domain": [-5, 18], "nice": false, "zero": false}, "axis": {"values": [-4,-2,0,2,4,6,8,10,12,14,16,18], "tickCount": 100, "labelExpr": "datum.value % 4 == 0 ? '' + datum.value : ''", "title": "H/m", "titleX": -29, "titleY": 184}},
                     "color": {"datum": "30% valve opening", "type": "nominal", "scale": {"domain": ["30% valve opening", "100% valve opening", "Theoretical value"], "range": ["#0f7c72", "#b0570f", "#e62129"]}, "legend": {"title": null, "legendX": 15, "legendY": 277}}}},
                  {"transform": [{"aggregate": [{"op": "max", "field": "H", "as": "peak"}]}, {"calculate": "(datum.peak + 13.7) / 2", "as": "mid"}],
                   "layer": [
                     {"mark": {"type": "rule", "color": "#0f7c72", "strokeWidth": 2.5, "strokeDash": [6, 9]}, "encoding": {"x": {"datum": 0}, "x2": {"datum": 220}, "y": {"field": "peak", "type": "quantitative"}}},
                     {"mark": {"type": "rule", "color": "#0f7c72", "strokeWidth": 1.3}, "encoding": {"x": {"datum": 201}, "y": {"field": "peak", "type": "quantitative"}, "y2": {"datum": 13.7}}},
                     {"mark": {"type": "point", "shape": "triangle-up", "filled": true, "opacity": 1, "color": "#0f7c72", "size": 30, "yOffset": 3}, "encoding": {"x": {"datum": 201}, "y": {"field": "peak", "type": "quantitative"}}},
                     {"mark": {"type": "point", "shape": "triangle-down", "filled": true, "opacity": 1, "color": "#0f7c72", "size": 30, "yOffset": -3}, "encoding": {"x": {"datum": 201}, "y": {"datum": 13.7}}},
                     {"mark": {"type": "text", "align": "left", "baseline": "middle", "dx": 4, "dy": 2, "fontSize": 20, "fontWeight": "bold", "color": "#0f7c72"}, "encoding": {"x": {"datum": 201}, "y": {"field": "mid", "type": "quantitative"}, "text": {"value": "22.94%"}}}
                   ]}
                ]},
                {"data": {"name": "b100"}, "layer": [
                  {"mark": {"type": "line", "strokeWidth": 2.6}, "encoding": {"x": {"field": "t", "type": "quantitative"}, "y": {"field": "H", "type": "quantitative"}, "color": {"datum": "100% valve opening", "type": "nominal"}}},
                  {"transform": [{"aggregate": [{"op": "max", "field": "H", "as": "peak"}]}, {"calculate": "(datum.peak + 13.7) / 2", "as": "mid"}],
                   "layer": [
                     {"mark": {"type": "rule", "color": "#b0570f", "strokeWidth": 2.5, "strokeDash": [6, 9]}, "encoding": {"x": {"datum": 0}, "x2": {"datum": 167}, "y": {"field": "peak", "type": "quantitative"}}},
                     {"mark": {"type": "rule", "color": "#b0570f", "strokeWidth": 1.3}, "encoding": {"x": {"datum": 162}, "y": {"field": "peak", "type": "quantitative"}, "y2": {"datum": 13.7}}},
                     {"mark": {"type": "point", "shape": "triangle-up", "filled": true, "opacity": 1, "color": "#b0570f", "size": 30, "yOffset": 3}, "encoding": {"x": {"datum": 162}, "y": {"field": "peak", "type": "quantitative"}}},
                     {"mark": {"type": "point", "shape": "triangle-down", "filled": true, "opacity": 1, "color": "#b0570f", "size": 30, "yOffset": -3}, "encoding": {"x": {"datum": 162}, "y": {"datum": 13.7}}},
                     {"mark": {"type": "text", "align": "left", "baseline": "middle", "dx": 4, "dy": 2, "fontSize": 20, "fontWeight": "bold", "color": "#b0570f"}, "encoding": {"x": {"datum": 162}, "y": {"field": "mid", "type": "quantitative"}, "text": {"value": "14.17%"}}}
                   ]}
                ]},
                {"data": {"values": [{"theory": 13.7}]}, "mark": {"type": "rule", "strokeWidth": 2.6}, "encoding": {"y": {"field": "theory", "type": "quantitative"}, "color": {"datum": "Theoretical value", "type": "nominal"}}}
              ]
            }
          ],
          "spacing": 10,
          "resolve": {"scale": {"color": "independent"}, "legend": {"color": "independent"}}
        },
        {
          "hconcat": [
            {
              "width": 564, "height": 364,
              "title": {"text": "(c)", "orient": "bottom", "dx": 2},
              "layer": [
                {"data": {"name": "c30"}, "layer": [
                  {"mark": {"type": "line", "strokeWidth": 2.6},
                   "encoding": {
                     "x": {"field": "t", "type": "quantitative", "scale": {"domain": [0, 300], "nice": false}, "axis": {"values": [0,25,50,75,100,125,150,175,200,225,250,275,300], "tickCount": 100, "labelExpr": "datum.value % 50 == 0 ? datum.label : ''", "title": "T/ms", "titleX": 295, "titleY": 56}},
                     "y": {"field": "H", "type": "quantitative", "scale": {"domain": [-7, 20], "nice": false, "zero": false}, "axis": {"values": [-6,-4,-2,0,2,4,6,8,10,12,14,16,18,20], "tickCount": 100, "labelExpr": "datum.value % 4 == 0 ? '' + datum.value : ''", "title": "H/m", "titleX": -29, "titleY": 182}},
                     "color": {"datum": "30% valve opening", "type": "nominal", "scale": {"domain": ["30% valve opening", "100% valve opening", "Theoretical value"], "range": ["#0f7c72", "#b0570f", "#e62129"]}, "legend": {"title": null, "legendX": 15, "legendY": 273}}}},
                  {"transform": [{"aggregate": [{"op": "max", "field": "H", "as": "peak"}]}, {"calculate": "(datum.peak + 16) / 2", "as": "mid"}],
                   "layer": [
                     {"mark": {"type": "rule", "color": "#0f7c72", "strokeWidth": 2.5, "strokeDash": [6, 9]}, "encoding": {"x": {"datum": 0}, "x2": {"datum": 219}, "y": {"field": "peak", "type": "quantitative"}}},
                     {"mark": {"type": "rule", "color": "#0f7c72", "strokeWidth": 1.3}, "encoding": {"x": {"datum": 203}, "y": {"field": "peak", "type": "quantitative"}, "y2": {"datum": 16}}},
                     {"mark": {"type": "point", "shape": "triangle-up", "filled": true, "opacity": 1, "color": "#0f7c72", "size": 30, "yOffset": 3}, "encoding": {"x": {"datum": 203}, "y": {"field": "peak", "type": "quantitative"}}},
                     {"mark": {"type": "point", "shape": "triangle-down", "filled": true, "opacity": 1, "color": "#0f7c72", "size": 30, "yOffset": -3}, "encoding": {"x": {"datum": 203}, "y": {"datum": 16}}},
                     {"mark": {"type": "text", "align": "left", "baseline": "middle", "dx": 4, "dy": 2, "fontSize": 20, "fontWeight": "bold", "color": "#0f7c72"}, "encoding": {"x": {"datum": 203}, "y": {"field": "mid", "type": "quantitative"}, "text": {"value": "19.56%"}}}
                   ]}
                ]},
                {"data": {"name": "c100"}, "layer": [
                  {"mark": {"type": "line", "strokeWidth": 2.6}, "encoding": {"x": {"field": "t", "type": "quantitative"}, "y": {"field": "H", "type": "quantitative"}, "color": {"datum": "100% valve opening", "type": "nominal"}}},
                  {"transform": [{"aggregate": [{"op": "max", "field": "H", "as": "peak"}]}, {"calculate": "(datum.peak + 16) / 2", "as": "mid"}],
                   "layer": [
                     {"mark": {"type": "rule", "color": "#b0570f", "strokeWidth": 2.5, "strokeDash": [6, 9]}, "encoding": {"x": {"datum": 0}, "x2": {"datum": 166}, "y": {"field": "peak", "type": "quantitative"}}},
                     {"mark": {"type": "rule", "color": "#b0570f", "strokeWidth": 1.3}, "encoding": {"x": {"datum": 163}, "y": {"field": "peak", "type": "quantitative"}, "y2": {"datum": 16}}},
                     {"mark": {"type": "point", "shape": "triangle-up", "filled": true, "opacity": 1, "color": "#b0570f", "size": 30, "yOffset": 3}, "encoding": {"x": {"datum": 163}, "y": {"field": "peak", "type": "quantitative"}}},
                     {"mark": {"type": "point", "shape": "triangle-down", "filled": true, "opacity": 1, "color": "#b0570f", "size": 30, "yOffset": -3}, "encoding": {"x": {"datum": 163}, "y": {"datum": 16}}},
                     {"mark": {"type": "text", "align": "left", "baseline": "middle", "dx": 4, "dy": 2, "fontSize": 20, "fontWeight": "bold", "color": "#b0570f"}, "encoding": {"x": {"datum": 163}, "y": {"field": "mid", "type": "quantitative"}, "text": {"value": "14.06%"}}}
                   ]}
                ]},
                {"data": {"values": [{"theory": 16}]}, "mark": {"type": "rule", "strokeWidth": 2.6}, "encoding": {"y": {"field": "theory", "type": "quantitative"}, "color": {"datum": "Theoretical value", "type": "nominal"}}}
              ]
            },
            {
              "width": 575, "height": 364,
              "title": {"text": "(d)", "orient": "bottom", "dx": 36},
              "layer": [
                {"data": {"name": "d30"}, "layer": [
                  {"mark": {"type": "line", "strokeWidth": 2.6},
                   "encoding": {
                     "x": {"field": "t", "type": "quantitative", "scale": {"domain": [0, 300], "nice": false}, "axis": {"values": [0,25,50,75,100,125,150,175,200,225,250,275,300], "tickCount": 100, "labelExpr": "datum.value % 50 == 0 ? datum.label : ''", "title": "T/ms", "titleX": 300, "titleY": 56}},
                     "y": {"field": "H", "type": "quantitative", "scale": {"domain": [-9, 24], "nice": false, "zero": false}, "axis": {"values": [-8,-6,-4,-2,0,2,4,6,8,10,12,14,16,18,20,22,24], "tickCount": 100, "labelExpr": "datum.value % 4 == 0 ? '' + datum.value : ''", "title": "H/m", "titleX": -29, "titleY": 182}},
                     "color": {"datum": "30% valve opening", "type": "nominal", "scale": {"domain": ["30% valve opening", "100% valve opening", "Theoretical value"], "range": ["#0f7c72", "#b0570f", "#e62129"]}, "legend": {"title": null, "legendX": 15, "legendY": 273}}}},
                  {"transform": [{"aggregate": [{"op": "max", "field": "H", "as": "peak"}]}, {"calculate": "(datum.peak + 18.1) / 2", "as": "mid"}],
                   "layer": [
                     {"mark": {"type": "rule", "color": "#0f7c72", "strokeWidth": 2.5, "strokeDash": [6, 9]}, "encoding": {"x": {"datum": 0}, "x2": {"datum": 220}, "y": {"field": "peak", "type": "quantitative"}}},
                     {"mark": {"type": "rule", "color": "#0f7c72", "strokeWidth": 1.3}, "encoding": {"x": {"datum": 204}, "y": {"field": "peak", "type": "quantitative"}, "y2": {"datum": 18.1}}},
                     {"mark": {"type": "point", "shape": "triangle-up", "filled": true, "opacity": 1, "color": "#0f7c72", "size": 30, "yOffset": 3}, "encoding": {"x": {"datum": 204}, "y": {"field": "peak", "type": "quantitative"}}},
                     {"mark": {"type": "point", "shape": "triangle-down", "filled": true, "opacity": 1, "color": "#0f7c72", "size": 30, "yOffset": -3}, "encoding": {"x": {"datum": 204}, "y": {"datum": 18.1}}},
                     {"mark": {"type": "text", "align": "left", "baseline": "middle", "dx": 4, "dy": 2, "fontSize": 20, "fontWeight": "bold", "color": "#0f7c72"}, "encoding": {"x": {"datum": 204}, "y": {"field": "mid", "type": "quantitative"}, "text": {"value": "19.73%"}}}
                   ]}
                ]},
                {"data": {"name": "d100"}, "layer": [
                  {"mark": {"type": "line", "strokeWidth": 2.6}, "encoding": {"x": {"field": "t", "type": "quantitative"}, "y": {"field": "H", "type": "quantitative"}, "color": {"datum": "100% valve opening", "type": "nominal"}}},
                  {"transform": [{"aggregate": [{"op": "max", "field": "H", "as": "peak"}]}, {"calculate": "(datum.peak + 18.1) / 2", "as": "mid"}],
                   "layer": [
                     {"mark": {"type": "rule", "color": "#b0570f", "strokeWidth": 2.5, "strokeDash": [6, 9]}, "encoding": {"x": {"datum": 0}, "x2": {"datum": 166}, "y": {"field": "peak", "type": "quantitative"}}},
                     {"mark": {"type": "rule", "color": "#b0570f", "strokeWidth": 1.3}, "encoding": {"x": {"datum": 162}, "y": {"field": "peak", "type": "quantitative"}, "y2": {"datum": 18.1}}},
                     {"mark": {"type": "point", "shape": "triangle-up", "filled": true, "opacity": 1, "color": "#b0570f", "size": 30, "yOffset": 3}, "encoding": {"x": {"datum": 162}, "y": {"field": "peak", "type": "quantitative"}}},
                     {"mark": {"type": "point", "shape": "triangle-down", "filled": true, "opacity": 1, "color": "#b0570f", "size": 30, "yOffset": -3}, "encoding": {"x": {"datum": 162}, "y": {"datum": 18.1}}},
                     {"mark": {"type": "text", "align": "left", "baseline": "middle", "dx": 4, "dy": 2, "fontSize": 20, "fontWeight": "bold", "color": "#b0570f"}, "encoding": {"x": {"datum": 162}, "y": {"field": "mid", "type": "quantitative"}, "text": {"value": "10.54%"}}}
                   ]}
                ]},
                {"data": {"values": [{"theory": 18.1}]}, "mark": {"type": "rule", "strokeWidth": 2.6}, "encoding": {"y": {"field": "theory", "type": "quantitative"}, "color": {"datum": "Theoretical value", "type": "nominal"}}}
              ]
            }
          ],
          "spacing": 10,
          "resolve": {"scale": {"color": "independent"}, "legend": {"color": "independent"}}
        }
      ],
      "spacing": 20, "center": true,
      "resolve": {"scale": {"color": "independent"}, "legend": {"color": "independent"}}
    },
    {
      "hconcat": [
        {
          "width": 587, "height": 372,
          "title": {"text": "(e)", "orient": "bottom", "dx": 5},
          "layer": [
            {"data": {"name": "e30"}, "layer": [
              {"mark": {"type": "line", "strokeWidth": 2.6},
               "encoding": {
                 "x": {"field": "t", "type": "quantitative", "scale": {"domain": [0, 300], "nice": false}, "axis": {"values": [0,25,50,75,100,125,150,175,200,225,250,275,300], "tickCount": 100, "labelExpr": "datum.value % 50 == 0 ? datum.label : ''", "title": "T/ms", "titleX": 306, "titleY": 56}},
                 "y": {"field": "H", "type": "quantitative", "scale": {"domain": [-9, 26], "nice": false, "zero": false}, "axis": {"values": [-7.5,-5,-2.5,0,2.5,5,7.5,10,12.5,15,17.5,20,22.5,25], "tickCount": 100, "labelExpr": "datum.value % 5 == 0 ? '' + datum.value : ''", "title": "H/m", "titleX": -29, "titleY": 186}},
                 "color": {"datum": "30% valve opening", "type": "nominal", "scale": {"domain": ["30% valve opening", "100% valve opening", "Theoretical value"], "range": ["#0f7c72", "#b0570f", "#e62129"]}, "legend": {"title": null, "legendX": 15, "legendY": 281}}}},
              {"transform": [{"aggregate": [{"op": "max", "field": "H", "as": "peak"}]}, {"calculate": "(datum.peak + 20.1) / 2", "as": "mid"}],
               "layer": [
                 {"mark": {"type": "rule", "color": "#0f7c72", "strokeWidth": 2.5, "strokeDash": [6, 9]}, "encoding": {"x": {"datum": 0}, "x2": {"datum": 219}, "y": {"field": "peak", "type": "quantitative"}}},
                 {"mark": {"type": "rule", "color": "#0f7c72", "strokeWidth": 1.3}, "encoding": {"x": {"datum": 203.5}, "y": {"field": "peak", "type": "quantitative"}, "y2": {"datum": 20.1}}},
                 {"mark": {"type": "point", "shape": "triangle-up", "filled": true, "opacity": 1, "color": "#0f7c72", "size": 30, "yOffset": 3}, "encoding": {"x": {"datum": 203.5}, "y": {"field": "peak", "type": "quantitative"}}},
                 {"mark": {"type": "point", "shape": "triangle-down", "filled": true, "opacity": 1, "color": "#0f7c72", "size": 30, "yOffset": -3}, "encoding": {"x": {"datum": 203.5}, "y": {"datum": 20.1}}},
                 {"mark": {"type": "text", "align": "left", "baseline": "middle", "dx": 4, "dy": 2, "fontSize": 20, "fontWeight": "bold", "color": "#0f7c72"}, "encoding": {"x": {"datum": 203.5}, "y": {"field": "mid", "type": "quantitative"}, "text": {"value": "21.36%"}}}
               ]}
            ]},
            {"data": {"name": "e100"}, "layer": [
              {"mark": {"type": "line", "strokeWidth": 2.6}, "encoding": {"x": {"field": "t", "type": "quantitative"}, "y": {"field": "H", "type": "quantitative"}, "color": {"datum": "100% valve opening", "type": "nominal"}}},
              {"transform": [{"aggregate": [{"op": "max", "field": "H", "as": "peak"}]}, {"calculate": "(datum.peak + 20.1) / 2", "as": "mid"}],
               "layer": [
                 {"mark": {"type": "rule", "color": "#b0570f", "strokeWidth": 2.5, "strokeDash": [6, 9]}, "encoding": {"x": {"datum": 0}, "x2": {"datum": 166}, "y": {"field": "peak", "type": "quantitative"}}},
                 {"mark": {"type": "rule", "color": "#b0570f", "strokeWidth": 1.3}, "encoding": {"x": {"datum": 162.5}, "y": {"field": "peak", "type": "quantitative"}, "y2": {"datum": 20.1}}},
                 {"mark": {"type": "point", "shape": "triangle-up", "filled": true, "opacity": 1, "color": "#b0570f", "size": 30, "yOffset": 3}, "encoding": {"x": {"datum": 162.5}, "y": {"field": "peak", "type": "quantitative"}}},
                 {"mark": {"type": "point", "shape": "triangle-down", "filled": true, "opacity": 1, "color": "#b0570f", "size": 30, "yOffset": -3}, "encoding": {"x": {"datum": 162.5}, "y": {"datum": 20.1}}},
                 {"mark": {"type": "text", "align": "left", "baseline": "middle", "dx": 4, "dy": 2, "fontSize": 20, "fontWeight": "bold", "color": "#b0570f"}, "encoding": {"x": {"datum": 162.5}, "y": {"field": "mid", "type": "quantitative"}, "text": {"value": "13.17%"}}}
               ]}
            ]},
            {"data": {"values": [{"theory": 20.1}]}, "mark": {"type": "rule", "strokeWidth": 2.6}, "encoding": {"y": {"field": "theory", "type": "quantitative"}, "color": {"datum": "Theoretical value", "type": "nominal"}}}
          ]
        },
        {
          "width": 578, "height": 367,
          "title": {"text": "(f)", "orient": "bottom", "dx": -7},
          "layer": [
            {"data": {"name": "f30"}, "layer": [
              {"mark": {"type": "line", "strokeWidth": 2.6},
               "encoding": {
                 "x": {"field": "t", "type": "quantitative", "scale": {"domain": [0, 300], "nice": false}, "axis": {"values": [0,25,50,75,100,125,150,175,200,225,250,275,300], "tickCount": 100, "labelExpr": "datum.value % 50 == 0 ? datum.label : ''", "title": "T/ms", "titleX": 302, "titleY": 56}},
                 "y": {"field": "H", "type": "quantitative", "scale": {"domain": [-10, 30], "nice": false, "zero": false}, "axis": {"values": [-9,-6,-3,0,3,6,9,12,15,18,21,24,27,30], "tickCount": 100, "labelExpr": "datum.value % 6 == 0 ? '' + datum.value : ''", "title": "H/m", "titleX": -29, "titleY": 184}},
                 "color": {"datum": "30% valve opening", "type": "nominal", "scale": {"domain": ["30% valve opening", "100% valve opening", "Theoretical value"], "range": ["#0f7c72", "#b0570f", "#e62129"]}, "legend": {"title": null, "legendX": 15, "legendY": 276}}}},
              {"transform": [{"aggregate": [{"op": "max", "field": "H", "as": "peak"}]}, {"calculate": "(datum.peak + 22.6) / 2", "as": "mid"}],
               "layer": [
                 {"mark": {"type": "rule", "color": "#0f7c72", "strokeWidth": 2.5, "strokeDash": [6, 9]}, "encoding": {"x": {"datum": 0}, "x2": {"datum": 219}, "y": {"field": "peak", "type": "quantitative"}}},
                 {"mark": {"type": "rule", "color": "#0f7c72", "strokeWidth": 1.3}, "encoding": {"x": {"datum": 201}, "y": {"field": "peak", "type": "quantitative"}, "y2": {"datum": 22.6}}},
                 {"mark": {"type": "point", "shape": "triangle-up", "filled": true, "opacity": 1, "color": "#0f7c72", "size": 30, "yOffset": 3}, "encoding": {"x": {"datum": 201}, "y": {"field": "peak", "type": "quantitative"}}},
                 {"mark": {"type": "point", "shape": "triangle-down", "filled": true, "opacity": 1, "color": "#0f7c72", "size": 30, "yOffset": -3}, "encoding": {"x": {"datum": 201}, "y": {"datum": 22.6}}},
                 {"mark": {"type": "text", "align": "left", "baseline": "middle", "dx": 4, "dy": 2, "fontSize": 20, "fontWeight": "bold", "color": "#0f7c72"}, "encoding": {"x": {"datum": 201}, "y": {"field": "mid", "type": "quantitative"}, "text": {"value": "21.17%"}}}
               ]}
            ]},
            {"data": {"name": "f100"}, "layer": [
              {"mark": {"type": "line", "strokeWidth": 2.6}, "encoding": {"x": {"field": "t", "type": "quantitative"}, "y": {"field": "H", "type": "quantitative"}, "color": {"datum": "100% valve opening", "type": "nominal"}}},
              {"transform": [{"aggregate": [{"op": "max", "field": "H", "as": "peak"}]}, {"calculate": "(datum.peak + 22.6) / 2", "as": "mid"}],
               "layer": [
                 {"mark": {"type": "rule", "color": "#b0570f", "strokeWidth": 2.5, "strokeDash": [6, 9]}, "encoding": {"x": {"datum": 0}, "x2": {"datum": 166}, "y": {"field": "peak", "type": "quantitative"}}},
                 {"mark": {"type": "rule", "color": "#b0570f", "strokeWidth": 1.3}, "encoding": {"x": {"datum": 162}, "y": {"field": "peak", "type": "quantitative"}, "y2": {"datum": 22.6}}},
                 {"mark": {"type": "point", "shape": "triangle-up", "filled": true, "opacity": 1, "color": "#b0570f", "size": 30, "yOffset": 3}, "encoding": {"x": {"datum": 162}, "y": {"field": "peak", "type": "quantitative"}}},
                 {"mark": {"type": "point", "shape": "triangle-down", "filled": true, "opacity": 1, "color": "#b0570f", "size": 30, "yOffset": -3}, "encoding": {"x": {"datum": 162}, "y": {"datum": 22.6}}},
                 {"mark": {"type": "text", "align": "left", "baseline": "middle", "dx": 4, "dy": 2, "fontSize": 20, "fontWeight": "bold", "color": "#b0570f"}, "encoding": {"x": {"datum": 162}, "y": {"field": "mid", "type": "quantitative"}, "text": {"value": "12.23%"}}}
               ]}
            ]},
            {"data": {"values": [{"theory": 22.6}]}, "mark": {"type": "rule", "strokeWidth": 2.6}, "encoding": {"y": {"field": "theory", "type": "quantitative"}, "color": {"datum": "Theoretical value", "type": "nominal"}}}
          ]
        }
      ],
      "spacing": 11,
      "resolve": {"scale": {"color": "independent"}, "legend": {"color": "independent"}}
    }
  ],
  "spacing": 9, "center": true,
  "resolve": {"scale": {"color": "independent"}, "legend": {"color": "independent"}},
  "config": {
    "font": "Liberation Serif",
    "view": {"stroke": "#222222", "strokeWidth": 1.5},
    "axis": {
      "labelFont": "Liberation Serif", "labelFontSize": 21, "labelColor": "#111111",
      "labelFlush": false, "labelOverlap": false, "labelPadding": 16,
      "titleFont": "Liberation Serif", "titleFontWeight": "normal", "titleColor": "#111111",
      "domainColor": "#222222", "domainWidth": 1.5,
      "tickColor": "#222222", "tickWidth": 1.2, "tickSize": -7,
      "grid": true, "gridColor": "#8a8a8a", "gridDash": [1.5, 2.5], "gridWidth": 1
    },
    "axisX": {"titleFontSize": 25, "titleBaseline": "alphabetic", "labelPadding": 17},
    "axisY": {"titleFontSize": 23, "titleBaseline": "alphabetic"},
    "legend": {
      "orient": "none", "labelFont": "Liberation Serif", "labelFontSize": 21, "labelColor": "#111111",
      "symbolType": "M-1.6,0H1.6", "symbolSize": 576, "symbolStrokeWidth": 3,
      "labelOffset": 18.8, "rowPadding": 1.5, "padding": 8, "fillColor": "white", "labelLimit": 400
    },
    "title": {"font": "Liberation Serif", "fontSize": 28, "fontWeight": "normal", "color": "#111111", "offset": 18, "anchor": "middle"}
  }
}
